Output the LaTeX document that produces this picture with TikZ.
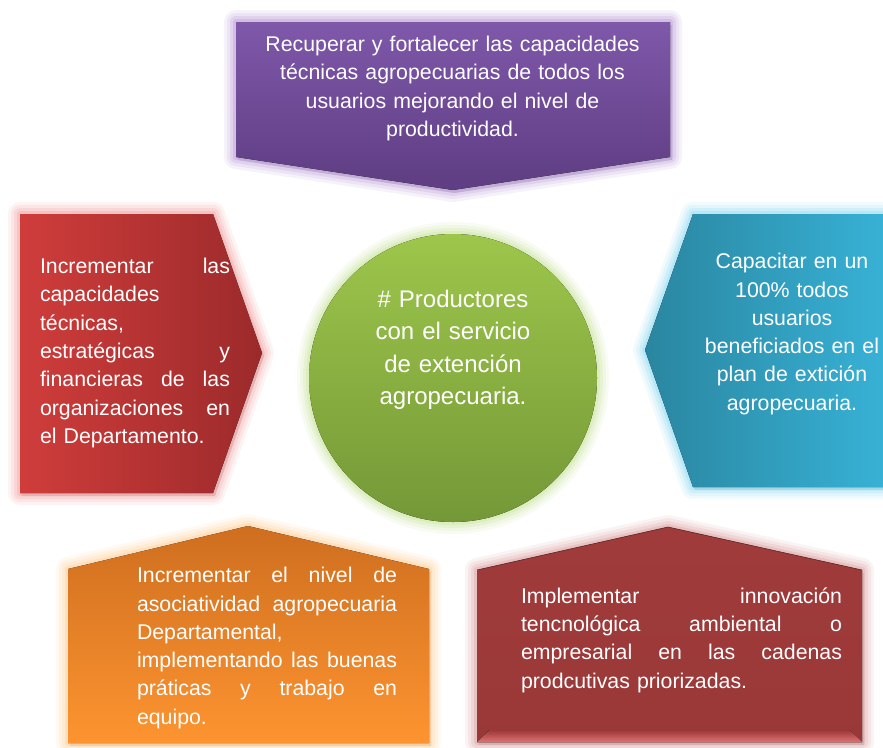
\documentclass[tikz,border=0pt]{standalone}
\usepackage{fontspec}
\setmainfont{Liberation Sans}
\definecolor{purpT}{HTML}{7F58AA}
\definecolor{purpB}{HTML}{5E3D82}
\definecolor{purpG}{HTML}{B89AD8}
\definecolor{redL}{HTML}{CF3D3B}
\definecolor{redR}{HTML}{9C2A2B}
\definecolor{redG}{HTML}{F2A0A0}
\definecolor{blueL}{HTML}{2A86A0}
\definecolor{blueR}{HTML}{38B3D8}
\definecolor{blueG}{HTML}{8FDDF5}
\definecolor{oraT}{HTML}{CE6E1F}
\definecolor{oraB}{HTML}{FD9430}
\definecolor{oraG}{HTML}{FFD09A}
\definecolor{drT}{HTML}{A03B3B}
\definecolor{drB}{HTML}{9A3838}
\definecolor{drG}{HTML}{DDA0A0}
\definecolor{drS}{HTML}{E07272}
\definecolor{grT}{HTML}{9DC64B}
\definecolor{grB}{HTML}{749837}
\definecolor{grG}{HTML}{C8E49C}
\newcommand{\myglow}[2]{%
  \foreach \w/\o in {24/0.12,18/0.16,12/0.22,6/0.35}{%
    \draw[#1,line width=\w pt,opacity=\o,line join=round] #2;}}
\newcommand{\myshadow}[1]{\fill[black,opacity=0.18,xshift=2pt,yshift=-3pt] #1;}
\newcommand{\jl}[2]{\leavevmode\hbox to #1{#2}\\}
\tikzset{
  txt/.style={text=white,inner sep=0pt,font=\fontsize{21.3}{28.3}\selectfont},
  bigtxt/.style={text=white,inner sep=0pt,font=\fontsize{24}{32.5}\selectfont},
}
\begin{document}
\begin{tikzpicture}[x=1pt,y=-1pt]
\useasboundingbox (0,0) rectangle (883,747);
\fill[white] (0,0) rectangle (883,747);
% top purple
\def\ptop{(236,22) -- (670,22) -- (670,157) -- (453,190) -- (236,157) -- cycle}
\myshadow{\ptop}
\myglow{purpG}{\ptop}
\fill[top color=purpT,bottom color=purpB] \ptop;
% left red
\def\pleft{(20,214) -- (213,214) -- (262,353) -- (213,493) -- (20,493) -- cycle}
\myshadow{\pleft}
\myglow{redG}{\pleft}
\fill[left color=redL,right color=redR] \pleft;
% right blue
\def\pright{(693,214) -- (895,214) -- (895,487) -- (693,487) -- (645,350) -- cycle}
\myshadow{\pright}
\myglow{blueG}{\pright}
\fill[left color=blueL,right color=blueR] \pright;
% bottom left orange
\def\pora{(68,569) -- (248,526) -- (429,569) -- (429,743) -- (68,743) -- cycle}
\myshadow{\pora}
\myglow{oraG}{\pora}
\fill[top color=oraT,bottom color=oraB] \pora;
% bottom right dark red
\def\pdr{(477,570) -- (668,527) -- (862,570) -- (862,742) -- (477,742) -- cycle}
\myshadow{\pdr}
\myglow{drG}{\pdr}
\fill[top color=drT,bottom color=drB] \pdr;
\draw[drB!60!black,line width=0.8pt,opacity=0.6] (477,570) -- (668,527) -- (862,570);
\fill[top color=drB,bottom color=drS] (477,742) -- (862,742) -- (850,730) -- (489,730) -- cycle;
% circle
\myglow{grG}{(453,378) circle[radius=144pt]}
\fill[top color=grT,bottom color=grB] (453,378) circle[radius=144pt];
% texts
\node[txt,text width=420pt,align=center] (top) at (452.5,88.5)
  {Recuperar y fortalecer las capacidades\\técnicas agropecuarias de todos los\\usuarios mejorando el nivel de\\productividad.};
\node[txt,text width=190pt,align=left] (left) at (135,353)
  {\jl{190pt}{Incrementar\hfill las}capacidades\\técnicas,\\\jl{190pt}{estratégicas\hfill y}\jl{190pt}{financieras\hfill de\hfill las}\jl{190pt}{organizaciones\hfill en}el Departamento.};
\node[txt,text width=220pt,align=center] (right) at (792,334)
  {Capacitar en un\\100\% todos\\usuarios\\beneficiados en el\\plan de extición\\agropecuaria.};
\node[txt,text width=260pt,align=left] (ora) at (267,648)
  {\jl{260pt}{Incrementar\hfill el\hfill nivel\hfill de}\jl{260pt}{asociatividad\hfill agropecuaria}Departamental,\\\jl{260pt}{implementando\hfill las\hfill buenas}\jl{260pt}{práticas\hfill y\hfill trabajo\hfill en}equipo.};
\node[txt,text width=321pt,align=left] (dr) at (681.5,640)
  {\jl{321pt}{Implementar\hfill innovación}\jl{321pt}{tencnológica\hfill ambiental\hfill o}\jl{321pt}{empresarial\hfill en\hfill las\hfill cadenas}prodcutivas priorizadas.};
\node[bigtxt,text width=260pt,align=center] (c) at (453,350)
  {\# Productores\\con el servicio\\de extención\\agropecuaria.};
\end{tikzpicture}
\end{document}
